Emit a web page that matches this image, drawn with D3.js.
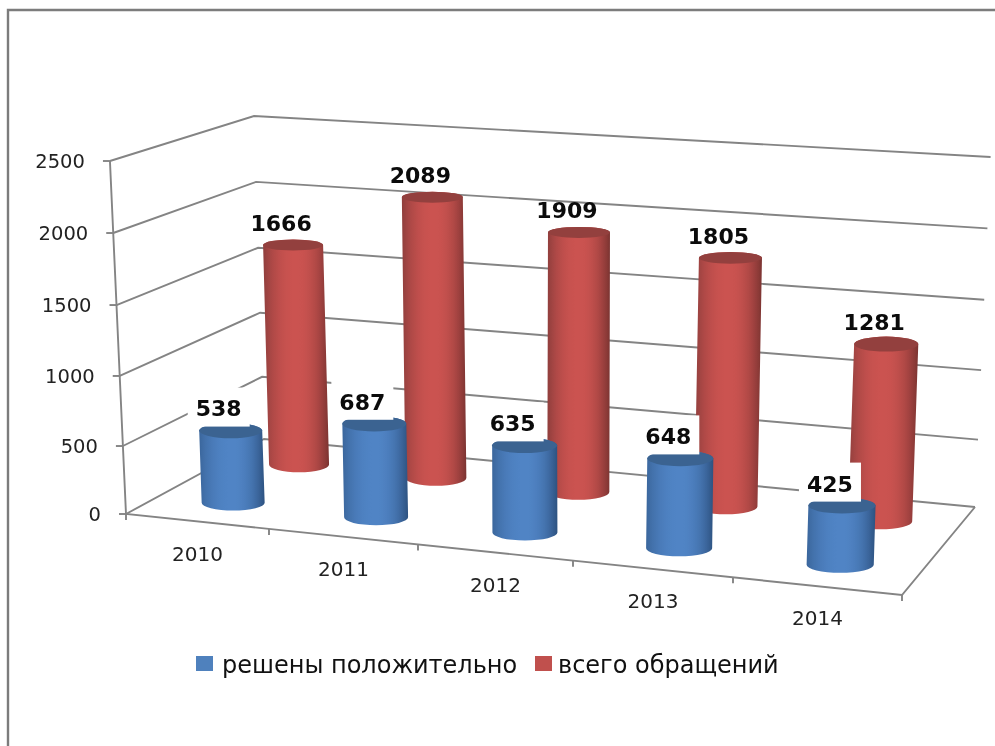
<!DOCTYPE html>
<html lang="ru">
<head>
<meta charset="UTF-8" />
<title>Обращения</title>
<style>
  html, body { margin: 0; padding: 0; background: #fff; overflow: hidden; }
  svg { display: block; filter: blur(0.4px); }
  text { font-family: "DejaVu Sans", sans-serif; }
</style>
</head>
<body>
<div class="chart"></div>
<script src="https://d3js.org/d3.v7.min.js"></script>
<script>
// данные
const years = ['2010', '2011', '2012', '2013', '2014']
const resolved = [538, 687, 635, 648, 425]
const total = [1666, 2089, 1909, 1805, 1281]
const yTicks = [0, 500, 1000, 1500, 2000, 2500]
const seriesNames = ['решены положительно', 'всего обращений']

const width = 995
const height = 746

const svg = d3.select('.chart').append('svg')
  .attr('width', width)
  .attr('height', height)

// пол диаграммы: углы на экране
const FL = [126, 514], FR = [902, 595], BL = [264, 439], BR = [975, 507]
// высота стенки в углах (в пикселях на весь диапазон 0..2500)
const wallH = { FL: 353, FR: 368, BL: 323, BR: 350 }

// позиция вдоль оси категорий, с учётом перспективы
const xCat = d3.scaleLinear()
  .domain([0, 1, 2, 3, 4, 5])
  .range([0, 143, 292, 447, 607, 776].map(d => d / 776))

// доля высоты стенки для значения
const yFrac = d3.scaleLinear()
  .domain(yTicks)
  .range([0, 0.1926, 0.391, 0.592, 0.796, 1])

const lerp = (a, b, t) => a + (b - a) * t

// u: 0..1 вдоль фронта, v: 0 спереди, 1 сзади, val: значение
const project = (u, v, val) => {
  const fx = lerp(FL[0], FR[0], u), fy = lerp(FL[1], FR[1], u)
  const bx = lerp(BL[0], BR[0], u), by = lerp(BL[1], BR[1], u)
  const x = lerp(fx, bx, v), y = lerp(fy, by, v)
  const H = lerp(lerp(wallH.FL, wallH.FR, u), lerp(wallH.BL, wallH.BR, u), v)
  const h = yFrac(val) * H
  // вертикали сходятся к точке внизу
  return [555 + (x - 555) * (1 + h * 0.000106), y - h]
}

const gridColor = '#848484'
const axisG = svg.append('g')
  .attr('fill', 'none')
  .attr('stroke', gridColor)
  .attr('stroke-width', 1.9)

// рамка
svg.append('path')
  .attr('d', `M8,746V10H995`)
  .attr('fill', 'none')
  .attr('stroke', '#7c7c7c')
  .attr('stroke-width', 2.4)

// линии сетки
yTicks.forEach(t => {
  const pts = [project(0, 0, t), project(0, 1, t), project(1, 1, t)]
  axisG.append('path').attr('d', d3.line()(pts))
  const p = pts[0]
  axisG.append('line')
    .attr('x1', p[0] - 7).attr('x2', p[0])
    .attr('y1', p[1]).attr('y2', p[1])
  svg.append('text')
    .attr('x', p[0] - 25)
    .attr('y', p[1])
    .attr('dy', '0.36em')
    .attr('text-anchor', 'end')
    .attr('font-size', 19.5)
    .attr('fill', '#222')
    .text(t)
})

// вертикальная ось и край пола
axisG.append('path').attr('d', d3.line()([project(0, 0, 2500), project(0, 0, 0), project(1, 0, 0), project(1, 1, 0)]))

// метки категорий
d3.range(0, 6).forEach(i => {
  const p = project(xCat(i), 0, 0)
  axisG.append('line')
    .attr('x1', p[0]).attr('x2', p[0])
    .attr('y1', p[1]).attr('y2', p[1] + 6)
})
years.forEach((y, i) => {
  const p = project(xCat(i + 0.5), 0, 0)
  svg.append('text')
    .attr('x', p[0])
    .attr('y', p[1] + 32)
    .attr('text-anchor', 'middle')
    .attr('dy', '0.36em')
    .attr('font-size', 20)
    .attr('fill', '#222')
    .text(y)
})

// градиенты: светлая середина, плавно темнеющие края
const defs = svg.append('defs')
const addGrad = (id, darkL, light, darkR) => {
  const g = defs.append('linearGradient').attr('id', id)
  d3.range(0, 21).forEach(k => {
    const x = k / 20
    const t = Math.pow(Math.abs(2 * x - 1), 2.2)
    const col = d3.interpolateRgb(light, x < 0.5 ? darkL : darkR)(t)
    g.append('stop').attr('offset', x).attr('stop-color', col)
  })
}
addGrad('gradRed', '#8f3e3c', '#cb5350', '#7a3331')
addGrad('gradBlue', '#3a669c', '#5084c5', '#2d5280')

const ryScale = d3.scaleLinear().domain([245, 342, 570]).range([5.5, 7.5, 8]).clamp(true)

const drawCylinder = (i, v, val, grad, cap) => {
  // центр цилиндра чуть правее середины промежутка
  const u = xCat(i + 0.5) + 0.0035
  const rx = 32 + 2.6 * u - 3 * v
  const b = project(u, v, 0)
  const t = project(u, v, val)
  const ryT = ryScale(t[1])
  const ryB = ryScale(b[1])
  const d = `M${t[0] - rx},${t[1]}L${b[0] - rx},${b[1]}` +
    `A${rx},${ryB} 0 0 0 ${b[0] + rx},${b[1]}` +
    `L${t[0] + rx},${t[1]}A${rx},${ryT} 0 0 0 ${t[0] - rx},${t[1]}Z`
  svg.append('path').attr('d', d).attr('fill', `url(#${grad})`)
  svg.append('ellipse')
    .attr('cx', t[0]).attr('cy', t[1])
    .attr('rx', rx).attr('ry', ryT)
    .attr('fill', cap)
  return t
}

const depthRed = 0.75
const depthBlue = 0.25

const redTops = total.map((d, i) => drawCylinder(i, depthRed, d, 'gradRed', '#93403e'))
const blueTops = resolved.map((d, i) => drawCylinder(i, depthBlue, d, 'gradBlue', '#3b6391'))

// подписи значений
const addLabel = (top, val, box) => {
  const lx = top[0] - 12
  const ly = top[1] - 22
  if (box) {
    svg.append('rect')
      .attr('x', lx - 31).attr('y', ly - 21)
      .attr('width', 62).attr('height', 39)
      .attr('fill', '#fff')
  }
  svg.append('text')
    .attr('x', lx).attr('y', ly)
    .attr('dy', '0.36em')
    .attr('text-anchor', 'middle')
    .attr('font-size', 22)
    .attr('font-weight', 'bold')
    .attr('fill', '#0b0b0b')
    .text(val)
}
total.forEach((d, i) => addLabel(redTops[i], d, false))
resolved.forEach((d, i) => addLabel(blueTops[i], d, true))

// легенда
const legendColors = ['#4f81bd', '#c0504d']
const legendX = [196, 535]
const legendTextX = [222, 558]
seriesNames.forEach((name, i) => {
  svg.append('rect')
    .attr('x', legendX[i]).attr('y', 656)
    .attr('width', 17).attr('height', 15)
    .attr('fill', legendColors[i])
  svg.append('text')
    .attr('x', legendTextX[i]).attr('y', 664)
    .attr('dy', '0.36em')
    .attr('font-size', 24)
    .attr('fill', '#111')
    .text(name)
})
</script>
</body>
</html>
